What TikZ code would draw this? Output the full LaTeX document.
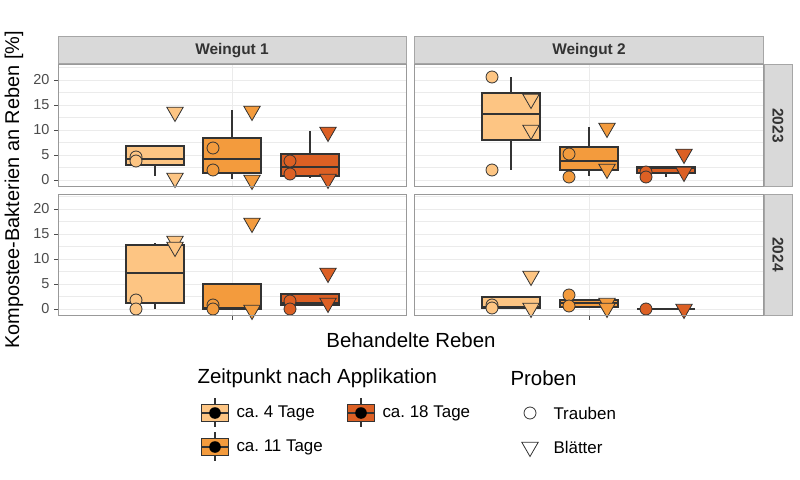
\documentclass[tikz,border=0pt]{standalone}
\usepackage{fontspec}
\setmainfont{Liberation Sans}
\frenchspacing
\definecolor{tagA}{HTML}{FDC583}
\definecolor{tagB}{HTML}{F39B3D}
\definecolor{tagC}{HTML}{DC6024}
\definecolor{stripgray}{HTML}{D9D9D9}
\definecolor{gridgray}{HTML}{EBEBEB}
\definecolor{inkgray}{HTML}{333333}
\tikzset{
  panel/.style={draw=gray!80, line width=1pt},
  strip/.style={fill=stripgray, draw=gray!70, line width=1pt},
  boxbody/.style={draw=inkgray, line width=1.1pt},
  whisk/.style={draw=inkgray, line width=1.1pt},
  medline/.style={draw=inkgray, line width=2.4pt},
  grauben/.style={circle, draw=inkgray, line width=0.8pt, inner sep=0pt, minimum size=12bp},
  blatt/.style={regular polygon, regular polygon sides=3, shape border rotate=180, draw=inkgray, line width=0.8pt, inner sep=0pt, minimum size=19bp},
  ticklab/.style={anchor=east, font=\fontsize{14.5}{15}\selectfont, text=gray!60!black},
}
\usetikzlibrary{shapes.geometric}
% box: center x, q1, median, q3, lower, upper, colour
\newcommand\boxp[7]{
  \draw[whisk] (#1,#5) -- (#1,#6);
  \draw[boxbody, fill=#7] (#1-29,#2) rectangle (#1+29,#4);
  \draw[medline] (#1-29,#3) -- (#1+29,#3);
}
\begin{document}
\begin{tikzpicture}[x=1bp, y=-1bp]
  \useasboundingbox (0,0) rectangle (800,480);
  % grid and panels
  \foreach \px/\pw in {58/406, 414/763}{
    \foreach \g in {0,...,9}{
      \draw[gridgray, line width=0.5pt] (\px,180-12.5*\g) -- (\pw,180-12.5*\g);
      \draw[gridgray, line width=0.5pt] (\px,309-12.5*\g) -- (\pw,309-12.5*\g);
    }
  }
  \foreach \gx in {232,589}{
    \draw[gridgray, line width=1pt] (\gx,65) -- (\gx,186);
    \draw[gridgray, line width=1pt] (\gx,194) -- (\gx,315);
    \draw[gray!60!black, line width=0.8pt] (\gx,315) -- (\gx,320);
  }
  % boxes, Weingut 1, 2023
  \boxp{155}{146}{159}{165}{176}{146}{tagA}
  \boxp{232}{138}{159}{173}{179}{110}{tagB}
  \boxp{310}{154}{167}{176}{178}{131}{tagC}
  % Weingut 1, 2024
  \boxp{155}{245}{273}{303}{309}{243}{tagA}
  \boxp{232}{284}{308}{309}{309}{284}{tagB}
  \boxp{310}{294}{303}{305}{305}{294}{tagC}
  % Weingut 2, 2023
  \boxp{511}{93}{114}{140}{170}{77}{tagA}
  \boxp{589}{147}{161}{170}{176}{127}{tagB}
  \boxp{666}{167}{168}{173}{177}{167}{tagC}
  % Weingut 2, 2024
  \boxp{511}{297}{307}{308}{308}{297}{tagA}
  \boxp{589}{300}{303}{307}{307}{300}{tagB}
  \draw[medline] (637,309) -- (695,309);
  % points
  \foreach \x/\y/\c in {136/157/tagA, 136/161/tagA, 213/148/tagB, 213/170/tagB, 290/161/tagC, 290/174/tagC,
      136/300/tagA, 136/309/tagA, 213/305/tagB, 213/309/tagB, 290/301/tagC, 290/309/tagC,
      492/77/tagA, 492/170/tagA, 569/154/tagB, 569/177/tagB, 646/172/tagC, 646/177/tagC,
      492/305/tagA, 492/308/tagA, 569/295/tagB, 569/306/tagB, 646/309/tagC}
    \node[grauben, fill=\c] at (\x,\y) {};
  \foreach \x/\y/\c in {175/112/tagA, 175/178/tagA, 252/111/tagB, 252/180/tagB, 328/132/tagC, 328/179/tagC,
      175/241/tagA, 175/247/tagA, 252/223/tagB, 252/310/tagB, 328/273/tagC, 328/303/tagC,
      531/99/tagA, 531/130/tagA, 607/128/tagB, 607/169/tagB, 684/154/tagC, 684/172/tagC,
      531/276/tagA, 531/308/tagA, 607/303/tagB, 607/308/tagB, 684/309/tagC}
    \node[blatt, fill=\c] at (\x,\y) {};
  % frames
  \foreach \px/\pw in {58/406, 414/763}{
    \draw[panel] (\px,65) rectangle (\pw,186);
    \draw[panel] (\px,194) rectangle (\pw,315);
  }
  % strips
  \draw[strip] (58,37) rectangle (406,64);
  \draw[strip] (414,37) rectangle (763,64);
  \draw[strip] (764,65) rectangle (792,186);
  \draw[strip] (764,194) rectangle (792,315);
  \node[font=\fontsize{15.5}{16}\selectfont\bfseries, text=inkgray] (w1) at (232,50.5) {Weingut 1};
  \node[font=\fontsize{15.5}{16}\selectfont\bfseries, text=inkgray] (w2) at (589,50.5) {Weingut 2};
  \node[font=\fontsize{15.5}{16}\selectfont\bfseries, text=inkgray, rotate=-90] (j1) at (778,125.5) {2023};
  \node[font=\fontsize{15.5}{16}\selectfont\bfseries, text=inkgray, rotate=-90] (j2) at (778,254.5) {2024};
  % y axes
  \foreach \v in {0,5,...,20}{
    \draw[gray!60!black, line width=0.8pt] (54,180-5*\v) -- (58,180-5*\v);
    \draw[gray!60!black, line width=0.8pt] (54,309-5*\v) -- (58,309-5*\v);
    \node[ticklab] at (53,180-5*\v) {\v};
    \node[ticklab] at (53,309-5*\v) {\v};
  }
  \node[rotate=90, font=\fontsize{20}{22}\selectfont] (ylab) at (14,190) {Kompostee-Bakterien an Reben [\%]};
  \node[font=\fontsize{20.5}{22}\selectfont] (xlab) at (411,340) {Behandelte Reben};
  % legend
  \node[anchor=west, font=\fontsize{20.5}{22}\selectfont] (lt1) at (194,378) {Zeitpunkt nach Applikation};
  \node[anchor=west, font=\fontsize{20.5}{22}\selectfont] (lt2) at (507,378) {Proben};
  \foreach \kx/\ky/\c/\t in {215/413/tagA/{ca. 4 Tage}, 215/447/tagB/{ca. 11 Tage}, 361/413/tagC/{ca. 18 Tage}}{
    \draw[whisk] (\kx,\ky-15) -- (\kx,\ky+14);
    \draw[boxbody, fill=\c] (\kx-13.5,\ky-8.5) rectangle (\kx+13.5,\ky+8.5);
    \draw[inkgray, line width=1.4pt] (\kx-13.5,\ky) -- (\kx+13.5,\ky);
    \fill[black] (\kx,\ky) circle (5.8);
    \node[anchor=west, font=\fontsize{17}{18}\selectfont] at (\kx+18,\ky) {\t};
  }
  \node[grauben, fill=white] (kt) at (530,413) {};
  \node[anchor=west, font=\fontsize{17}{18}\selectfont] at (550,413) {Trauben};
  \node[blatt, fill=white] (kb) at (530,447) {};
  \node[anchor=west, font=\fontsize{17}{18}\selectfont] at (550,447) {Blätter};
\end{tikzpicture}
\end{document}
